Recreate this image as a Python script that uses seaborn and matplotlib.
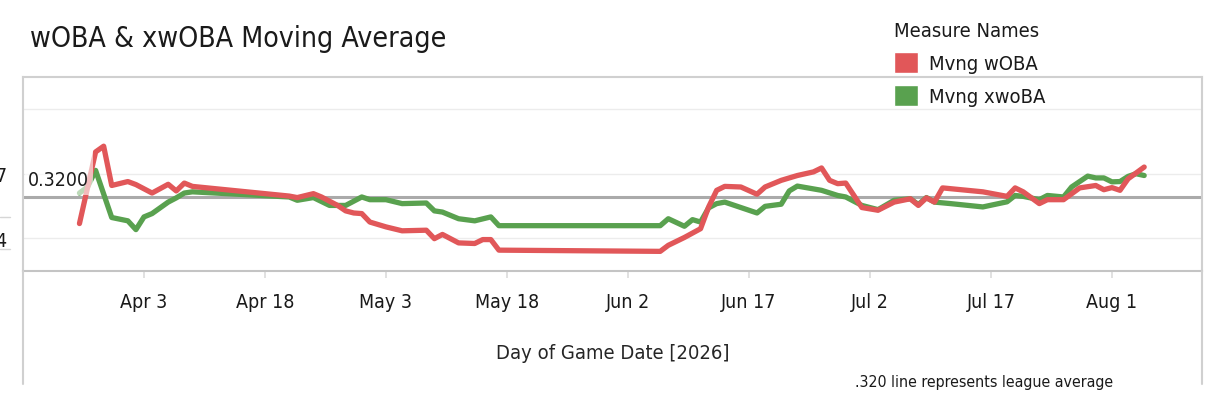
import matplotlib
matplotlib.use("Agg")
import matplotlib.pyplot as plt
import matplotlib.dates as mdates
import matplotlib.transforms as mtransforms
from matplotlib import font_manager as fm
from matplotlib.lines import Line2D
from matplotlib.patches import Patch, Rectangle
import pandas as pd
import seaborn as sns

# values (moving averages, 2026 season)
woba_dates = ["03-26", "03-28", "03-29", "03-30", "04-01", "04-02", "04-04", "04-06",
              "04-07", "04-08", "04-09", "04-21", "04-22", "04-24", "04-25", "04-27",
              "04-28", "04-29", "04-30", "05-01", "05-03", "05-05", "05-08", "05-09",
              "05-10", "05-12", "05-14", "05-15", "05-16", "05-17", "06-06", "06-07",
              "06-09", "06-11", "06-12", "06-13", "06-14", "06-16", "06-18", "06-19",
              "06-21", "06-23", "06-25", "06-26", "06-27", "06-28", "06-29", "07-01",
              "07-03", "07-05", "07-07", "07-08", "07-09", "07-10", "07-11", "07-16",
              "07-19", "07-20", "07-21", "07-23", "07-24", "07-26", "07-28", "07-30",
              "07-31", "08-01", "08-02", "08-03", "08-05"]
woba_vals = [0.3112, 0.3349, 0.3368, 0.3238, 0.3251, 0.3241, 0.3213, 0.3242,
             0.3220, 0.3246, 0.3235, 0.3203, 0.3198, 0.3211, 0.3200, 0.3172,
             0.3154, 0.3147, 0.3145, 0.3117, 0.3101, 0.3088, 0.3090, 0.3062,
             0.3076, 0.3048, 0.3046, 0.3059, 0.3059, 0.3024, 0.3020, 0.3040,
             0.3066, 0.3095, 0.3167, 0.3222, 0.3235, 0.3233, 0.3209, 0.3233,
             0.3255, 0.3271, 0.3283, 0.3296, 0.3255, 0.3244, 0.3246, 0.3165,
             0.3156, 0.3183, 0.3194, 0.3172, 0.3197, 0.3183, 0.3230, 0.3217,
             0.3202, 0.3230, 0.3217, 0.3178, 0.3191, 0.3191, 0.3230, 0.3238,
             0.3224, 0.3231, 0.3222, 0.3260, 0.3299]

xwoba_dates = ["03-26", "03-27", "03-28", "03-30", "04-01", "04-02", "04-03", "04-04",
               "04-06", "04-07", "04-08", "04-09", "04-21", "04-22", "04-24", "04-26",
               "04-28", "04-30", "05-01", "05-03", "05-05", "05-08", "05-09", "05-10",
               "05-12", "05-14", "05-16", "05-17", "06-06", "06-07", "06-09", "06-10",
               "06-11", "06-12", "06-13", "06-14", "06-16", "06-18", "06-19", "06-21",
               "06-22", "06-23", "06-26", "06-28", "06-29", "07-01", "07-03", "07-05",
               "07-07", "07-08", "07-09", "07-10", "07-12", "07-16", "07-19", "07-20",
               "07-21", "07-23", "07-24", "07-26", "07-27", "07-29", "07-30", "07-31",
               "08-01", "08-02", "08-03", "08-04", "08-05"]
xwoba_vals = [0.3213, 0.3233, 0.3288, 0.3132, 0.3121, 0.3092, 0.3134, 0.3145,
              0.3183, 0.3197, 0.3213, 0.3217, 0.3200, 0.3189, 0.3198, 0.3172,
              0.3172, 0.3200, 0.3191, 0.3191, 0.3178, 0.3180, 0.3154, 0.3150,
              0.3128, 0.3121, 0.3134, 0.3105, 0.3105, 0.3128, 0.3103, 0.3125,
              0.3117, 0.3164, 0.3178, 0.3183, 0.3165, 0.3147, 0.3169, 0.3176,
              0.3220, 0.3236, 0.3222, 0.3205, 0.3200, 0.3172, 0.3158, 0.3189,
              0.3194, 0.3175, 0.3198, 0.3183, 0.3178, 0.3167, 0.3184, 0.3205,
              0.3202, 0.3191, 0.3205, 0.3200, 0.3233, 0.3269, 0.3263, 0.3263,
              0.3250, 0.3251, 0.3268, 0.3277, 0.3271]

league_avg = 0.32
grid_vals = [0.3064, 0.3277, 0.3490]
ytick_vals = [0.3064, 0.3277]
ytick_labels = ["0.3064", "0.3277"]

red = "#E15759"
green = "#59A14F"

df = pd.concat([
    pd.DataFrame({"date": pd.to_datetime(["2026-" + d for d in woba_dates]),
                  "value": woba_vals, "measure": "Mvng wOBA"}),
    pd.DataFrame({"date": pd.to_datetime(["2026-" + d for d in xwoba_dates]),
                  "value": xwoba_vals, "measure": "Mvng xwoBA"}),
])

sns.set_theme(style="white")

# the original uses a tall condensed face; take a condensed one if it is installed
cond = [f for f in fm.fontManager.ttflist
        if "condensed" in str(f.stretch) and f.style == "normal"
        and str(f.weight) in ("400", "normal", "regular", "book")]
if cond:
    plt.rcParams["font.family"] = [cond[0].name, "DejaVu Sans"]
    plt.rcParams["font.stretch"] = cond[0].stretch
else:
    plt.rcParams["font.family"] = ["Roboto", "DejaVu Sans"]
plt.rcParams["text.color"] = "#1a1a1a"

W, H = 1210, 406
fig = plt.figure(figsize=(W / 100, H / 100), dpi=100)

# scale all font sizes so the title gets the width it has in the original
title = fig.text(30 / W, 1 - 47 / H, "wOBA & xwOBA Moving Average", fontsize=24,
                 ha="left", va="baseline")
tw = title.get_window_extent(fig.canvas.get_renderer()).width
k = min(1.0, 417 / tw)
title.set_fontsize(24 * k)

ax = fig.add_axes([23 / W, 1 - 272 / H, 1179 / W, 194 / H])

for v in grid_vals:
    ax.axhline(v, color="#ececec", lw=1, zorder=0)
ax.axhline(league_avg, color="#aaaaaa", lw=2.2, zorder=1.5)

sns.lineplot(data=df, x="date", y="value", hue="measure",
             hue_order=["Mvng xwoBA", "Mvng wOBA"],
             palette={"Mvng wOBA": red, "Mvng xwoBA": green},
             estimator=None, linewidth=3.8, legend=False, ax=ax)

ax.set_xlim(pd.Timestamp("2026-03-19"), pd.Timestamp("2026-08-12 04:00"))
ax.set_ylim(0.2955, 0.3597)

# reference line label with washed-out background
ax.add_patch(Rectangle((2 / 1179, 76 / 194), 68 / 1179, 46 / 194, transform=ax.transAxes,
                       fc="white", ec="none", alpha=0.6, zorder=5))
blend = mtransforms.blended_transform_factory(ax.transAxes, ax.transData)
ax.text(5 / 1179, 0.3257, "0.3200", transform=blend, fontsize=16.5 * k, va="center",
        ha="left", zorder=6)

ax.set_xticks(pd.date_range("2026-04-03", "2026-08-01", freq="15D"))
ax.xaxis.set_major_formatter(mdates.DateFormatter("%b %-d"))
ax.tick_params(axis="x", length=5, color="#dddddd", pad=10, labelsize=16.5 * k,
               labelcolor="#1a1a1a", bottom=True)
ax.set_yticks(ytick_vals)
ax.set_yticklabels(ytick_labels)
ax.tick_params(axis="y", length=0, pad=10.8, labelsize=16.5 * k, labelcolor="#1a1a1a")
ax.set_ylabel("")
ax.set_xlabel("Day of Game Date [2026]", fontsize=17 * k)
ax.xaxis.set_label_coords(0.5, -(354 - 272) / 194)
ax.xaxis.label.set_va("center")

for s in ["top", "left", "right"]:
    ax.spines[s].set_color("#d0d0d0")
    ax.spines[s].set_linewidth(1.5)
ax.spines["bottom"].set_color("#c4c4c4")
ax.spines["bottom"].set_linewidth(1.5)

# outer pane borders running below the axis
for xp in [23, 1202]:
    fig.add_artist(Line2D([xp / W, xp / W], [1 - 272 / H, 1 - 385 / H],
                          color="#d0d0d0", lw=1.5, transform=fig.transFigure))
for yp in [218, 250]:
    fig.add_artist(Line2D([0, 10 / W], [1 - yp / H, 1 - yp / H],
                          color="#d6d6d6", lw=1, transform=fig.transFigure))

fig.text(855 / W, 1 - 383 / H, ".320 line represents league average", fontsize=13.4 * k,
         ha="left", va="center")

# legend: 24 px swatches, 36 px row pitch
leg_fs = 17 * k
fs_px = leg_fs * 100 / 72
handles = [Patch(facecolor=red), Patch(facecolor=green)]
fig.legend(handles, ["Mvng wOBA", "Mvng xwoBA"], title="Measure Names",
           loc="upper left", bbox_to_anchor=(894 / W, 1 - 22 / H), frameon=False,
           fontsize=leg_fs, title_fontsize=leg_fs, handlelength=24 / fs_px,
           handleheight=24 / fs_px, handletextpad=11 / fs_px, labelspacing=12 / fs_px,
           borderpad=0, borderaxespad=0, alignment="left")

fig.savefig("out.png", dpi=100)
